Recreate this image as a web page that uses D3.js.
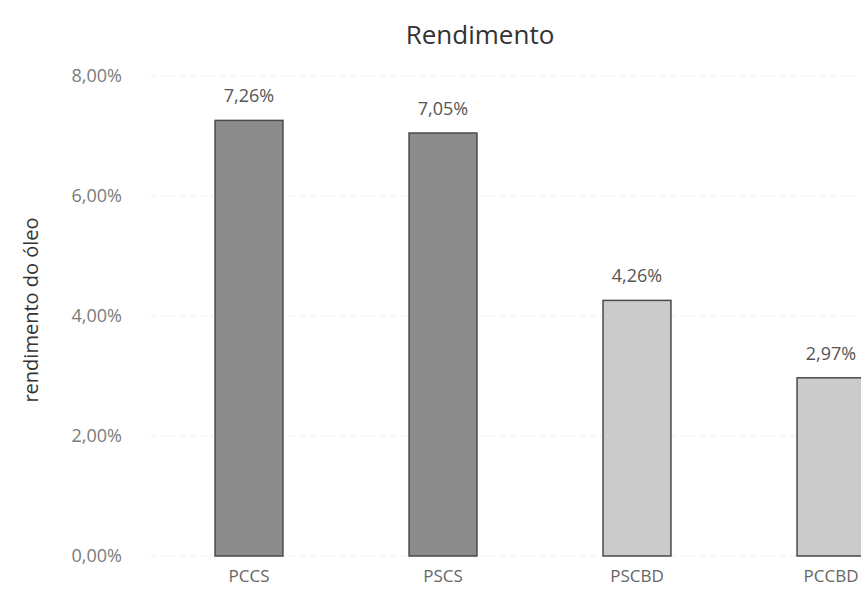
<!DOCTYPE html>
<html>
<head>
<meta charset="utf-8">
<script src="https://cdn.jsdelivr.net/npm/d3@7"></script>
<style>
  body { margin: 0; background: #fff; }
  svg { display: block; font-family: "Open Sans", Lato, sans-serif; }
</style>
</head>
<body>
<svg id="chart" width="861" height="599"></svg>
<script>
// data
const categories = ["PCCS", "PSCS", "PSCBD", "PCCBD"];
const values = [7.26, 7.05, 4.26, 2.97];
const barColors = ["#8c8c8c", "#8c8c8c", "#cbcbcb", "#cbcbcb"];
const yTicks = [0, 2, 4, 6, 8];

const svg = d3.select("#chart");
const fmt = v => d3.format(".2f")(v).replace(".", ",") + "%";

const x = d3.scaleBand()
    .domain(categories)
    .range([152, 928])
    .paddingInner(0.65)
    .paddingOuter(0.325);

const y = d3.scaleLinear()
    .domain([0, 8])
    .range([556, 76]);

// faint gridlines
svg.append("g")
    .selectAll("line")
    .data(yTicks)
    .enter()
    .append("line")
    .attr("x1", 150)
    .attr("x2", 861)
    .attr("y1", d => y(d))
    .attr("y2", d => y(d))
    .attr("stroke", "#f1f1f1")
    .attr("stroke-dasharray", "6,4");

// y axis (labels only)
const yAxis = d3.axisLeft(y)
    .tickValues(yTicks)
    .tickFormat(fmt)
    .tickSize(0)
    .tickPadding(0);
const gy = svg.append("g")
    .attr("transform", "translate(122,0)")
    .call(yAxis);
gy.select(".domain").remove();
gy.selectAll("text")
    .attr("fill", "#7a7a7a")
    .attr("font-size", 18)
    .attr("font-family", "\"Open Sans\", Lato, sans-serif");

// bars
svg.append("g")
    .selectAll("rect")
    .data(values)
    .enter()
    .append("rect")
    .attr("x", (d, i) => x(categories[i]))
    .attr("y", d => y(d))
    .attr("width", x.bandwidth())
    .attr("height", d => y(0) - y(d))
    .attr("fill", (d, i) => barColors[i])
    .attr("stroke", "#4a4a4a")
    .attr("stroke-width", 1.5);

// value labels
svg.append("g")
    .selectAll("text")
    .data(values)
    .enter()
    .append("text")
    .attr("x", (d, i) => x(categories[i]) + x.bandwidth() / 2)
    .attr("y", d => y(d) - 18)
    .attr("text-anchor", "middle")
    .attr("font-size", 18)
    .attr("fill", "#555")
    .text(d => fmt(d));

// x axis (labels only)
const xAxis = d3.axisBottom(x).tickSize(0).tickPadding(0);
const gx = svg.append("g")
    .attr("transform", "translate(0,570)")
    .call(xAxis);
gx.select(".domain").remove();
gx.selectAll("text")
    .attr("fill", "#666")
    .attr("font-size", 17)
    .attr("font-family", "\"Open Sans\", Lato, sans-serif");

// title
svg.append("text")
    .attr("x", 480)
    .attr("y", 44)
    .attr("text-anchor", "middle")
    .attr("font-size", 26)
    .attr("fill", "#333")
    .text("Rendimento");

// y axis title
svg.append("text")
    .attr("transform", "translate(38,310) rotate(-90)")
    .attr("text-anchor", "middle")
    .attr("font-size", 20)
    .attr("fill", "#333")
    .text("rendimento do óleo");
</script>
</body>
</html>
